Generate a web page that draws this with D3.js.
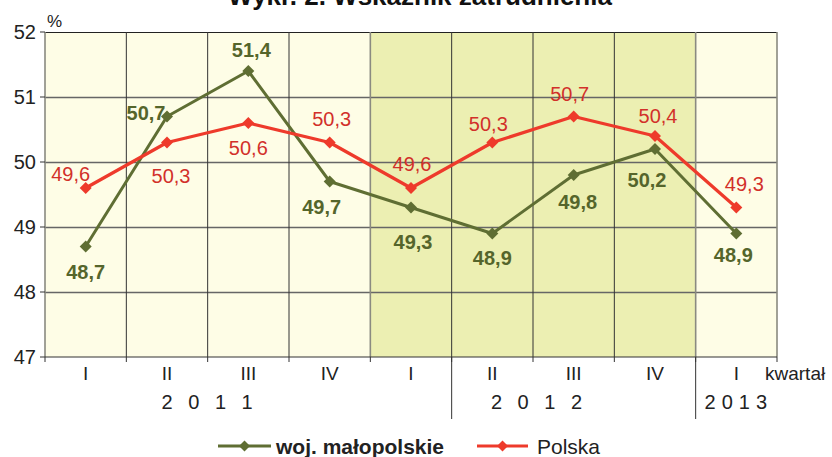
<!DOCTYPE html>
<html>
<head>
<meta charset="utf-8">
<script src="https://cdn.jsdelivr.net/npm/d3@7/dist/d3.min.js"></script>
<style>
  html, body { margin: 0; padding: 0; background: #fff; }
  svg { display: block; font-family: "Liberation Sans", Arial, sans-serif; }
</style>
</head>
<body>
<svg id="chart" width="832" height="457"></svg>
<script>
(function () {
  'use strict';

  // quarters (I 2011 .. I 2013)
  const QUARTERS = ['I', 'II', 'III', 'IV', 'I', 'II', 'III', 'IV', 'I'];
  const MALOPOLSKIE = [48.7, 50.7, 51.4, 49.7, 49.3, 48.9, 49.8, 50.2, 48.9];
  const POLSKA = [49.6, 50.3, 50.6, 50.3, 49.6, 50.3, 50.7, 50.4, 49.3];
  const Y_TICKS = [47, 48, 49, 50, 51, 52];
  const YEARS = ['2 0 1 1', '2 0 1 2', '2 0 1 3'];

  // where each value label sits relative to its marker (px)
  const MAL_LABEL_OFFSET = [[0, 25], [-21, -4], [3, -21], [-8, 25], [2, 34], [0, 24], [4, 27], [-8, 31], [-3, 21]];
  const POL_LABEL_OFFSET = [[-15, -14], [4, 33], [0, 25], [2, -24], [1, -24], [-4, -19], [-4, -23], [3, -20], [8, -24]];

  const GREEN = '#5f6e33';
  const GREEN_TEXT = '#55652b';
  const RED = '#ee3a2b';
  const RED_TEXT = '#d2302a';

  const margin = { left: 45, right: 55, top: 32, bottom: 100 };
  const W = 832, H = 457;
  const plotW = W - margin.left - margin.right;
  const plotH = H - margin.top - margin.bottom;

  const svg = d3.select('#chart');

  // title (mostly cut off at top edge, as in the original)
  svg.append('text')
    .attr('x', 420).attr('y', 5)
    .attr('text-anchor', 'middle')
    .attr('font-size', 26).attr('font-weight', 'bold').attr('fill', '#111')
    .text('Wykr. 2. Wskaźnik zatrudnienia');

  const g = svg.append('g').attr('transform', `translate(${margin.left},${margin.top})`);

  const x = d3.scaleBand().domain(d3.range(QUARTERS.length)).range([0, plotW]).padding(0);
  const y = d3.scaleLinear().domain([47, 52]).range([plotH, 0]);
  const cx = i => x(i) + x.bandwidth() / 2;

  // backgrounds: 2012 quarters shaded green
  g.selectAll('rect.bg')
    .data(QUARTERS.map((q, i) => i))
    .join('rect')
    .attr('class', 'bg')
    .attr('x', i => x(i)).attr('y', 0)
    .attr('width', x.bandwidth() + 0.5).attr('height', plotH)
    .attr('fill', i => (i >= 4 && i <= 7) ? '#ecefb2' : '#fefde6');

  // horizontal grid
  g.selectAll('line.hgrid')
    .data(Y_TICKS.slice(1))
    .join('line')
    .attr('class', 'hgrid')
    .attr('x1', 0).attr('x2', plotW)
    .attr('y1', d => Math.round(y(d)) + 0.5).attr('y2', d => Math.round(y(d)) + 0.5)
    .attr('stroke', d => d === 52 ? '#222' : '#666')
    .attr('stroke-width', d => d === 52 ? 1.2 : 1.4);

  // vertical grid
  const vEdges = d3.range(QUARTERS.length + 1);
  const edgeX = i => i < QUARTERS.length ? x(i) : plotW;
  const softEdge = i => i === 0 || i === 4 || i === 8 || i === 9;
  g.selectAll('line.vgrid')
    .data(vEdges)
    .join('line')
    .attr('class', 'vgrid')
    .attr('x1', edgeX).attr('x2', edgeX)
    .attr('y1', 0).attr('y2', plotH)
    .attr('stroke', i => softEdge(i) ? '#8a8a80' : '#333')
    .attr('stroke-width', i => softEdge(i) ? 1.6 : 1);

  // bottom axis line + ticks
  g.append('line')
    .attr('x1', 0).attr('x2', plotW).attr('y1', plotH).attr('y2', plotH)
    .attr('stroke', '#333').attr('stroke-width', 1.2);
  g.selectAll('line.xtick')
    .data(vEdges)
    .join('line')
    .attr('class', 'xtick')
    .attr('x1', edgeX).attr('x2', edgeX)
    .attr('y1', plotH).attr('y2', plotH + 5)
    .attr('stroke', '#333');

  // y axis ticks + labels
  g.selectAll('line.ytick')
    .data(Y_TICKS)
    .join('line')
    .attr('class', 'ytick')
    .attr('x1', -5).attr('x2', 0)
    .attr('y1', d => y(d)).attr('y2', d => y(d))
    .attr('stroke', '#333');
  g.selectAll('text.ylab')
    .data(Y_TICKS)
    .join('text')
    .attr('class', 'ylab')
    .attr('x', -9).attr('y', d => y(d))
    .attr('dy', '0.36em')
    .attr('text-anchor', 'end')
    .attr('font-size', 20).attr('fill', '#222')
    .text(d => d);
  g.append('text')
    .attr('x', 2).attr('y', -5)
    .attr('font-size', 17).attr('fill', '#222')
    .text('%');

  // quarter labels
  g.selectAll('text.xlab')
    .data(QUARTERS)
    .join('text')
    .attr('class', 'xlab')
    .attr('x', (d, i) => cx(i)).attr('y', plotH + 23)
    .attr('text-anchor', 'middle')
    .attr('font-size', 19).attr('fill', '#222')
    .text(d => d);
  g.append('text')
    .attr('x', plotW - 12).attr('y', plotH + 23)
    .attr('font-size', 19).attr('fill', '#222')
    .text('kwartał');

  // year labels and separators
  const yearCenters = [x(2) + 2, x(6) + 6, cx(8)];
  g.selectAll('text.year')
    .data(YEARS)
    .join('text')
    .attr('class', 'year')
    .attr('x', (d, i) => yearCenters[i]).attr('y', plotH + 52)
    .attr('text-anchor', 'middle')
    .attr('font-size', 20).attr('fill', '#222')
    .attr('letter-spacing', (d, i) => i === 2 ? '1px' : '5px')
    .text((d, i) => i === 2 ? d.replace(/ /g, '\u2009') : d);
  g.selectAll('line.ysep')
    .data([5, 8])
    .join('line')
    .attr('class', 'ysep')
    .attr('x1', i => x(i)).attr('x2', i => x(i))
    .attr('y1', plotH).attr('y2', plotH + 62)
    .attr('stroke', '#333');

  // series
  const series = [
    { name: 'woj. małopolskie', values: MALOPOLSKIE, color: GREEN, text: GREEN_TEXT, bold: true, offs: MAL_LABEL_OFFSET, width: 3 },
    { name: 'Polska', values: POLSKA, color: RED, text: RED_TEXT, bold: false, offs: POL_LABEL_OFFSET, width: 3.2 }
  ];

  const line = d3.line().x((d, i) => cx(i)).y(d => y(d));
  const marker = d3.symbol().type(d3.symbolSquare).size(72);

  series.forEach(s => {
    g.append('path')
      .attr('d', line(s.values))
      .attr('fill', 'none')
      .attr('stroke', s.color)
      .attr('stroke-width', s.width)
      .attr('stroke-linejoin', 'round');
    g.selectAll(null)
      .data(s.values)
      .join('path')
      .attr('transform', (d, i) => `translate(${cx(i)},${y(d)}) rotate(45)`)
      .attr('d', marker)
      .attr('fill', s.color);
  });

  series.forEach(s => {
    g.selectAll(null)
      .data(s.values)
      .join('text')
      .attr('x', (d, i) => cx(i) + s.offs[i][0])
      .attr('y', (d, i) => y(d) + s.offs[i][1])
      .attr('dy', '0.36em')
      .attr('text-anchor', 'middle')
      .attr('font-size', 20)
      .attr('font-weight', s.bold ? 'bold' : 'normal')
      .attr('fill', s.text)
      .text(d => d.toFixed(1).replace('.', ','));
  });

  // legend
  const legend = svg.append('g').attr('transform', 'translate(0,446)');
  const legItems = [
    { x1: 218, x2: 271, tx: 276 },
    { x1: 477, x2: 528, tx: 537 }
  ];
  series.forEach((s, i) => {
    const L = legItems[i];
    legend.append('line')
      .attr('x1', L.x1).attr('x2', L.x2).attr('y1', 0).attr('y2', 0)
      .attr('stroke', s.color).attr('stroke-width', 3);
    legend.append('path')
      .attr('transform', `translate(${(L.x1 + L.x2) / 2},0) rotate(45)`)
      .attr('d', d3.symbol().type(d3.symbolSquare).size(60))
      .attr('fill', s.color);
    legend.append('text')
      .attr('x', L.tx).attr('y', 0).attr('dy', '0.36em')
      .attr('font-size', 21)
      .attr('font-weight', s.bold ? 'bold' : 'normal')
      .attr('fill', '#222')
      .text(s.name);
  });
})();
</script>
</body>
</html>
